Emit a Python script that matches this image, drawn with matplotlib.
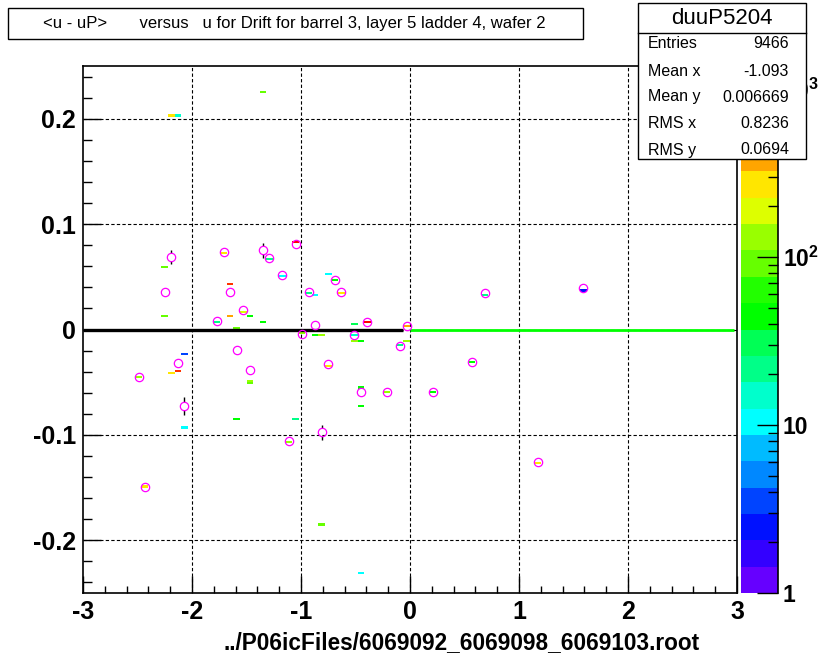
import numpy as np
import matplotlib
matplotlib.use("Agg")
import matplotlib.pyplot as plt
from matplotlib.colors import ListedColormap, BoundaryNorm
from matplotlib.patches import Rectangle
from matplotlib.lines import Line2D
import matplotlib.ticker as mticker

plt.rcParams['font.family'] = ['Liberation Sans', 'DejaVu Sans']
plt.rcParams['mathtext.fontset'] = 'custom'
plt.rcParams['mathtext.rm'] = 'Liberation Sans'
plt.rcParams['mathtext.bf'] = 'Liberation Sans:bold'

# --- data ---
# profile points (magenta circles): bin centre, mean, error
prof_x = [-2.49, -2.43, -2.25, -2.19, -2.13, -2.07, -1.77, -1.71, -1.65, -1.59,
          -1.53, -1.47, -1.35, -1.29, -1.17, -1.11, -1.05, -0.99, -0.93, -0.87,
          -0.81, -0.75, -0.69, -0.63, -0.51, -0.45, -0.39, -0.21, -0.09, -0.03,
          0.21, 0.57, 0.69, 1.17, 1.59]
prof_y = [-0.0453, -0.149, 0.036, 0.0687, -0.032, -0.0728, 0.0076, 0.074, 0.0355, -0.0197,
          0.0184, -0.0386, 0.0753, 0.0674, 0.0516, -0.106, 0.0807, -0.004, 0.0355, 0.0047,
          -0.0975, -0.033, 0.0465, 0.0355, -0.005, -0.0595, 0.0070, -0.0595, -0.0158, 0.003,
          -0.0595, -0.0304, 0.0342, -0.126, 0.039]
prof_err = [0, 0, 0, 0.0063, 0, 0.0087, 0, 0, 0, 0,
            0, 0, 0.007, 0, 0, 0, 0, 0, 0, 0,
            0.007, 0, 0, 0, 0, 0, 0, 0, 0, 0,
            0, 0, 0, 0, 0]

# 2D histogram cells (x bin centre, y, counts)
cell_x = [-2.19, -2.13, -1.35, -2.25, -2.25, -1.65, -1.65, -1.71, -1.53, -1.47,
          -1.59, -1.35, -1.05, -1.29, -1.17, -0.93, -0.87, -0.75, -0.69, -0.63,
          -0.51, -0.39, -0.03, -1.05, -0.99, -0.87, -0.81, -0.51, -0.51, -0.45,
          -0.03, -0.09, -2.07, -2.13, -2.19, -2.49, -1.47, -1.47, -0.75, -0.45,
          -0.45, -0.21, -1.59, -1.05, -2.07, -1.11, -2.43, -0.81, -0.45, 0.69,
          1.59, 0.57, 0.21, 1.17, -1.77]
cell_y = [0.2032, 0.2032, 0.226, 0.058, 0.0133, 0.0437, 0.0123, 0.074, 0.018, 0.0133,
          0.001, 0.007, 0.084, 0.067, 0.0516, 0.0355, 0.0335, 0.0525, 0.0465, 0.0355,
          0.0057, 0.0066, 0.0035, -0.002, -0.004, -0.0057, -0.006, -0.005, -0.0101, -0.0114,
          -0.0114, -0.0158, -0.0225, -0.0386, -0.0418, -0.045, -0.048, -0.050, -0.0357, -0.055,
          -0.0722, -0.0595, -0.086, -0.086, -0.0937, -0.107, -0.149, -0.186, -0.2305, 0.034,
          0.038, -0.031, -0.0595, -0.127, 0.0076]
cell_n = [270, 15, 90, 90, 90, 800, 390, 270, 190, 45,
          90, 45, 1100, 21, 10, 21, 10, 10, 45, 270,
          30, 1100, 390, 15, 130, 45, 130, 15, 130, 45,
          130, 21, 4, 800, 270, 130, 130, 90, 270, 45,
          45, 130, 45, 21, 10, 130, 270, 90, 10, 21,
          2.5, 45, 45, 270, 21]

palette = ['#6600ff', '#3300ff', '#0011ff', '#0044ff', '#0088ff', '#00bbff', '#00ffff',
           '#00ffcc', '#00ff88', '#00ff55', '#00ff00', '#22ff00', '#66ff00', '#99ff00',
           '#ddff00', '#ffe600', '#ffa500', '#ff6600', '#ff3300', '#ff0000']
z_max = 1370.0

stats_names = ['Entries', 'Mean x', 'Mean y', 'RMS x', 'RMS y']
stats_vals = ['9466', '-1.093', '0.006669', '0.8236', '0.0694']

title = '<u - uP>       versus   u for Drift for barrel 3, layer 5 ladder 4, wafer 2'
xlabel = '../P06icFiles/6069092_6069098_6069103.root'

# --- figure ---
W, H = 820, 660
fig = plt.figure(figsize=(W / 100, H / 100), dpi=100)
ax = fig.add_axes([83 / W, 67 / H, 654 / W, 527 / H])
cax = fig.add_axes([741 / W, 67 / H, 37 / W, 527 / H])

levels = np.logspace(0, np.log10(z_max), len(palette) + 1)
cmap = ListedColormap(palette)
norm = BoundaryNorm(levels, cmap.N)

xedges = np.linspace(-3, 3, 101)
yedges = np.linspace(-0.25, 0.25, 251)
hist, _, _ = np.histogram2d(cell_x, cell_y, bins=[xedges, yedges], weights=cell_n)
hist = np.ma.masked_where(hist <= 0, hist)
ax.pcolormesh(xedges, yedges, hist.T, cmap=cmap, norm=norm, zorder=1)

# row of cells sitting on y = 0
ax.hlines(0, -3, -0.06, colors='black', linewidth=2.4, zorder=2)
ax.hlines(0, 0.0, 2.97, colors='#00ff00', linewidth=2.0, zorder=2)

# error bars drawn outside the marker, as ROOT does
px = np.array(prof_x)
py = np.array(prof_y)
pe = np.array(prof_err)
r = 0.0040
show = pe > r
ax.vlines(px[show], py[show] + r, py[show] + pe[show], colors='black', lw=1.0, zorder=3)
ax.vlines(px[show], py[show] - pe[show], py[show] - r, colors='black', lw=1.0, zorder=3)
ax.plot(px, py, 'o', mfc='none', mec='#ff00ff', ms=6, mew=0.9, zorder=4)

ax.set_xlim(-3, 3)
ax.set_ylim(-0.25, 0.25)
ax.set_xticks([-3, -2, -1, 0, 1, 2, 3])
ax.set_xticklabels(['-3', '-2', '-1', '0', '1', '2', '3'])
ax.set_yticks([-0.2, -0.1, 0, 0.1, 0.2])
ax.set_yticklabels(['-0.2', '-0.1', '0', '0.1', '0.2'])
ax.xaxis.set_minor_locator(mticker.MultipleLocator(0.2))
ax.yaxis.set_minor_locator(mticker.MultipleLocator(0.02))
ax.tick_params(which='both', direction='in', top=False, right=False)
ax.tick_params(axis='x', which='major', length=12, width=1, pad=5, labelsize=18)
ax.tick_params(axis='x', which='minor', length=5, width=1)
ax.tick_params(axis='y', which='major', length=13, width=1, pad=5, labelsize=18)
ax.tick_params(axis='y', which='minor', length=6.5, width=1)
for lab in ax.get_xticklabels() + ax.get_yticklabels():
    lab.set_fontweight('bold')
for sp in ax.spines.values():
    sp.set_linewidth(1.2)

for gx in [-2, -1, 0, 1, 2]:
    ax.axvline(gx, color='black', lw=0.8, dashes=(3, 2), zorder=0.5)
for gy in [-0.2, -0.1, 0, 0.1, 0.2]:
    ax.axhline(gy, color='black', lw=0.8, dashes=(3, 2), zorder=0.5)

ax.set_xlabel(xlabel, fontsize=16.3, fontweight='bold', labelpad=6)
ax.xaxis.set_label_coords((700 - 83) / 654, -0.072)
ax.xaxis.label.set_horizontalalignment('right')

# --- colour scale ---
mids = np.sqrt(levels[:-1] * levels[1:])
cax.pcolormesh([0, 1], levels, mids.reshape(-1, 1), cmap=cmap, norm=norm)
cax.set_yscale('log')
cax.set_ylim(1, z_max)
cax.set_xlim(0, 1)
cax.set_xticks([])
cax.yaxis.tick_right()
cax.yaxis.set_major_locator(mticker.FixedLocator([1, 10, 100, 1000]))
cax.yaxis.set_major_formatter(mticker.FixedFormatter(
    ['1', '10', r'$\mathbf{10^{2}}$', r'$\mathbf{10^{3}}$']))
cax.yaxis.set_minor_locator(mticker.LogLocator(base=10, subs=np.arange(2, 10)))
cax.yaxis.set_minor_formatter(mticker.NullFormatter())
cax.tick_params(which='both', direction='in', left=False, right=True)
cax.tick_params(which='major', length=15, width=1, pad=3.5, labelsize=16.5)
cax.tick_params(which='minor', length=7, width=1)
for lab in cax.get_yticklabels():
    lab.set_fontweight('bold')
for name in ['left', 'top', 'bottom']:
    cax.spines[name].set_visible(False)
cax.spines['right'].set_linewidth(1.2)

# --- title box ---
fig.add_artist(Rectangle((8 / W, 1 - 39 / H), 575 / W, 31 / H, transform=fig.transFigure,
                         facecolor='white', edgecolor='black', lw=1, zorder=5))
fig.text(294 / W, 1 - 23.5 / H, title, ha='center', va='center', fontsize=12, zorder=6)

# --- stats box ---
bx0, bx1, by0, by1 = 638, 806, 3, 159
fig.add_artist(Rectangle((bx0 / W, 1 - by1 / H), (bx1 - bx0) / W, (by1 - by0) / H,
                         transform=fig.transFigure, facecolor='white',
                         edgecolor='black', lw=1, zorder=5))
fig.add_artist(Line2D([bx0 / W, bx1 / W], [1 - 33 / H, 1 - 33 / H],
                      transform=fig.transFigure, color='black', lw=1, zorder=6))
fig.text((bx0 + bx1) / 2 / W, 1 - 18 / H, 'duuP5204', ha='center', va='center',
         fontsize=16, zorder=6)
row_y = [44, 71, 97, 124, 150]
for name, val, yy in zip(stats_names, stats_vals, row_y):
    fig.text(648 / W, 1 - yy / H, name, ha='left', va='center', fontsize=11.5, zorder=6)
    fig.text(789 / W, 1 - yy / H, val, ha='right', va='center', fontsize=11.5, zorder=6)

fig.savefig('out.png', dpi=100)
